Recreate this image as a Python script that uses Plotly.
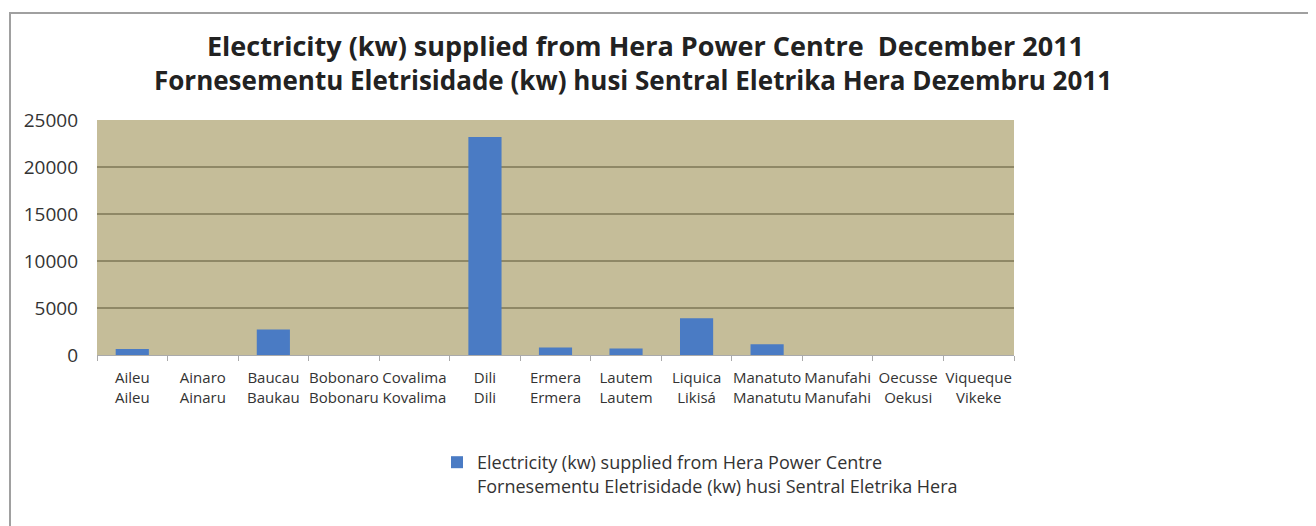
import plotly.graph_objects as go

districts = ["Aileu<br>Aileu", "Ainaro<br>Ainaru", "Baucau<br>Baukau", "Bobonaro<br>Bobonaru",
             "Covalima<br>Kovalima", "Dili<br>Dili", "Ermera<br>Ermera", "Lautem<br>Lautem",
             "Liquica<br>Likisá", "Manatuto<br>Manatutu", "Manufahi<br>Manufahi",
             "Oecusse<br>Oekusi", "Viqueque<br>Vikeke"]
electricity_kw = [650, 0, 2700, 0, 0, 23200, 800, 700, 3900, 1150, 0, 0, 0]
y_ticks = [0, 5000, 10000, 15000, 20000, 25000]
y_tick_text = ["0", "5000", "10000", "15000", "20000", "25000"]
series_name = ("Electricity (kw) supplied from Hera Power Centre<br>"
               "Fornesementu Eletrisidade (kw) husi Sentral Eletrika Hera")
title_lines = ["Electricity (kw) supplied from Hera Power Centre  December 2011",
               "Fornesementu Eletrisidade (kw) husi Sentral Eletrika Hera Dezembru 2011"]

FONT = "Open Sans"
OFF = 8  # page body margin
L, T, PW, PH = 97 - OFF, 120 - OFF, 917, 235
W, H = 1308, 518

fig = go.Figure()
fig.add_trace(go.Bar(x=districts, y=electricity_kw, name=series_name,
                     marker=dict(color="#4a7bc4", line=dict(width=0)), width=0.47,
                     showlegend=True))

fig.update_layout(
    width=W, height=H,
    margin=dict(l=L, r=W - L - PW, t=T, b=H - T - PH, autoexpand=False),
    paper_bgcolor="white", plot_bgcolor="#c5bd99",
    font=dict(family=FONT, color="#333333"),
    showlegend=True,
    legend=dict(x=(437 - 97) / PW, y=(355 - 444) / PH, xanchor="left", yanchor="top",
                font=dict(size=18, color="#333333", family=FONT), valign="top",
                bgcolor="rgba(0,0,0,0)", itemwidth=30),
)
fig.update_yaxes(range=[0, 25000], tickvals=y_ticks, ticktext=y_tick_text, showgrid=True,
                 gridcolor="#8f8866", gridwidth=1.5, zeroline=False,
                 tickfont=dict(size=19, color="#333333"), ticks="", showline=False,
                 ticklabelstandoff=18)
fig.update_xaxes(tickfont=dict(size=15, color="#333333"), tickson="boundaries",
                 ticks="outside", ticklen=5, tickcolor="#aaaaaa", showline=True,
                 linecolor="#aaaaaa", linewidth=1, showgrid=False, tickangle=0,
                 ticklabelstandoff=9)

for i, (t, cx) in enumerate(zip(title_lines, [645, 633])):
    fig.add_annotation(text="<b>" + t + "</b>", xref="paper", yref="paper",
                       x=(cx - 97) / PW, y=1 + (120 - (45 + 35 * i)) / PH,
                       xanchor="center", yanchor="middle", showarrow=False,
                       font=dict(size=26 if i else 27, color="#222222", family=FONT))

fig.add_shape(type="rect", xref="paper", yref="paper",
              x0=(10 - 97) / PW, x1=(1340 - 97) / PW,
              y0=(355 - 560) / PH, y1=(355 - 13) / PH,
              line=dict(color="#a0a0a0", width=2), fillcolor="rgba(0,0,0,0)", layer="below")

fig.write_html("out.html")
